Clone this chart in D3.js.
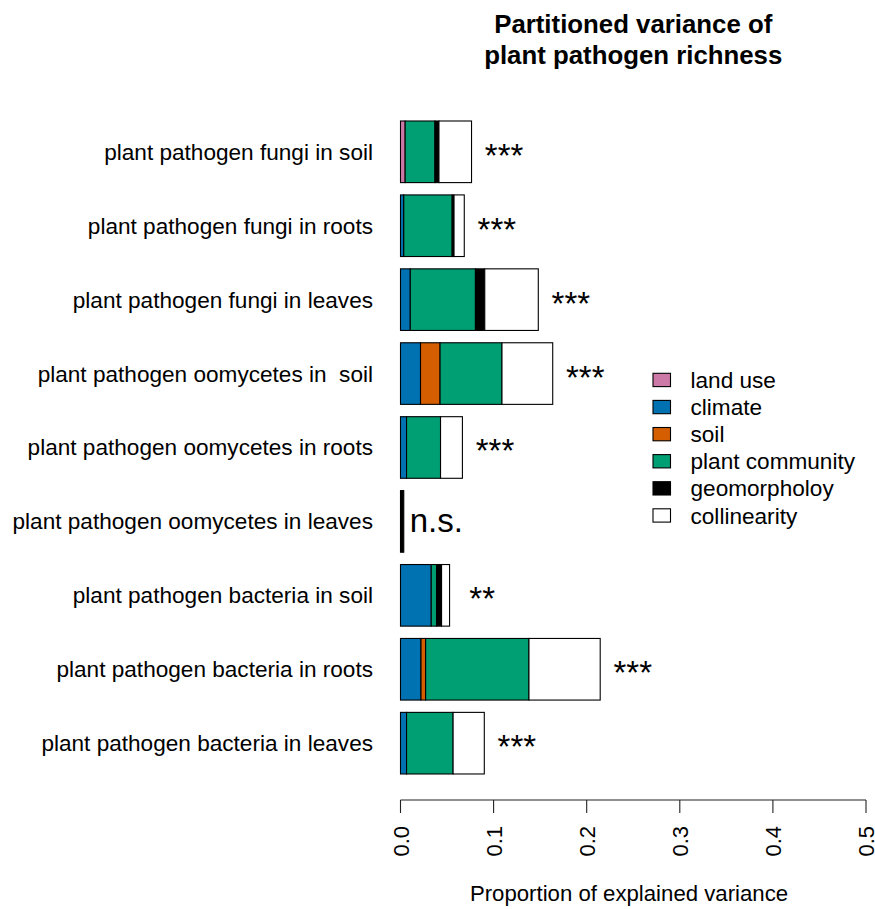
<!DOCTYPE html>
<html>
<head>
<meta charset="utf-8">
<script src="https://cdn.jsdelivr.net/npm/d3@7"></script>
<style>
  html, body { margin: 0; padding: 0; background: #fff; }
  svg { display: block; font-family: "Liberation Sans", Arial, Helvetica, sans-serif; }
  text { white-space: pre; }
</style>
</head>
<body>
<svg id="chart" width="875" height="909"></svg>
<script>
// Response groups, top to bottom
const categories = [
  "plant pathogen fungi in soil",
  "plant pathogen fungi in roots",
  "plant pathogen fungi in leaves",
  "plant pathogen oomycetes in  soil",
  "plant pathogen oomycetes in roots",
  "plant pathogen oomycetes in leaves",
  "plant pathogen bacteria in soil",
  "plant pathogen bacteria in roots",
  "plant pathogen bacteria in leaves"
];

// Variance fractions explained by each predictor group
const landUse        = [0.005, 0,      0,      0,      0,      0,      0,      0,     0];
const climate        = [0,     0.0035, 0.0105, 0.0215, 0.0065, 0,      0.033,  0.022, 0.0065];
const soil           = [0,     0,      0,      0.021,  0,      0,      0,      0.005, 0];
const plantCommunity = [0.032, 0.052,  0.070,  0.0665, 0.0365, 0,      0.0057, 0.111, 0.050];
const geomorphology  = [0.0043,0.002,  0.010,  0,      0,      0.0035, 0.0054, 0,     0];
const collinearity   = [0.035, 0.011,  0.0575, 0.0545, 0.0235, 0,      0.0086, 0.0765,0.0335];

// Significance of each full model
const significance = ["***", "***", "***", "***", "***", "n.s.", "**", "***", "***"];

const componentNames = ["land use", "climate", "soil", "plant community", "geomorpholoy", "collinearity"];
const componentColors = ["#CC79A7", "#0072B2", "#D55E00", "#009E73", "#000000", "#FFFFFF"];
const components = [landUse, climate, soil, plantCommunity, geomorphology, collinearity];

const xTicks = [0, 0.1, 0.2, 0.3, 0.4, 0.5];

const svg = d3.select("#chart");
const x = d3.scaleLinear().domain([0, 0.5]).range([400.5, 866]);
// barplot units: each bar is 1 wide with 0.2 spacing
const nBars = categories.length;
const yMax = nBars * 1.2;
const y = d3.scaleLinear().domain([0, yMax]).range([786.3, 121]);

const rows = categories.map((name, i) => {
  const top = yMax - 1.2 * i;
  let acc = 0;
  const segs = components.map((arr, k) => {
    const s = { k, x0: acc, x1: acc + arr[i] };
    acc += arr[i];
    return s;
  }).filter(s => s.x1 > s.x0);
  return { name, i, y0: top - 1, y1: top, segs, total: acc, sig: significance[i] };
});

const g = svg.append("g");
const rowG = g.selectAll("g.row").data(rows).join("g").attr("class", "row");

rowG.selectAll("rect").data(d => d.segs.map(s => ({ ...s, y0: d.y0, y1: d.y1 })))
  .join("rect")
  .attr("x", d => x(d.x0))
  .attr("width", d => x(d.x1) - x(d.x0))
  .attr("y", d => y(d.y1))
  .attr("height", d => y(d.y0) - y(d.y1))
  .attr("fill", d => componentColors[d.k])
  .attr("stroke", "#000")
  .attr("stroke-width", 1.1);

// category labels
rowG.append("text")
  .attr("x", 373)
  .attr("y", d => y((d.y0 + d.y1) / 2) + 8)
  .attr("text-anchor", "end")
  .attr("font-size", 22.6)
  .attr("fill", "#000")
  .text(d => d.name);

// significance labels
rowG.append("text")
  .attr("x", d => x(d.total + 0.035))
  .attr("y", d => y((d.y0 + d.y1) / 2) + (d.sig.startsWith("*") ? 15 : 10.5))
  .attr("text-anchor", "middle")
  .attr("font-size", 33)
  .attr("fill", "#000")
  .text(d => d.sig);

// x axis
const axisY = 800;
const ax = svg.append("g");
ax.append("line")
  .attr("x1", x(0)).attr("x2", x(0.5))
  .attr("y1", axisY).attr("y2", axisY)
  .attr("stroke", "#222").attr("stroke-width", 1.1);
ax.selectAll("line.tick").data(xTicks).join("line")
  .attr("class", "tick")
  .attr("x1", d => x(d)).attr("x2", d => x(d))
  .attr("y1", axisY).attr("y2", axisY + 13)
  .attr("stroke", "#222").attr("stroke-width", 1.1);
ax.selectAll("text").data(xTicks).join("text")
  .attr("transform", d => `translate(${x(d) + 8.3},${826}) rotate(-90)`)
  .attr("text-anchor", "end")
  .attr("font-size", 22)
  .attr("fill", "#000")
  .text(d => d3.format(".1f")(d));

svg.append("text")
  .attr("x", 629)
  .attr("y", 901)
  .attr("text-anchor", "middle")
  .attr("font-size", 22.2)
  .text("Proportion of explained variance");

// title
const titleX = (x(0) + x(0.5)) / 2;
const title = svg.append("text")
  .attr("text-anchor", "middle")
  .attr("font-size", 25.8)
  .attr("font-weight", "bold");
title.append("tspan").attr("x", titleX).attr("y", 33).text("Partitioned variance of");
title.append("tspan").attr("x", titleX).attr("y", 64).text("plant pathogen richness");

// legend
const leg = svg.append("g");
const legItems = leg.selectAll("g").data(componentNames).join("g")
  .attr("transform", (d, i) => `translate(0,${380 + 27.1 * i})`);
legItems.append("rect")
  .attr("x", 653).attr("y", -6.7)
  .attr("width", 17.5).attr("height", 13.3)
  .attr("fill", (d, i) => componentColors[i])
  .attr("stroke", "#000").attr("stroke-width", 1.1);
legItems.append("text")
  .attr("x", 690.5).attr("y", 8)
  .attr("font-size", 22.6)
  .text(d => d);
</script>
</body>
</html>
